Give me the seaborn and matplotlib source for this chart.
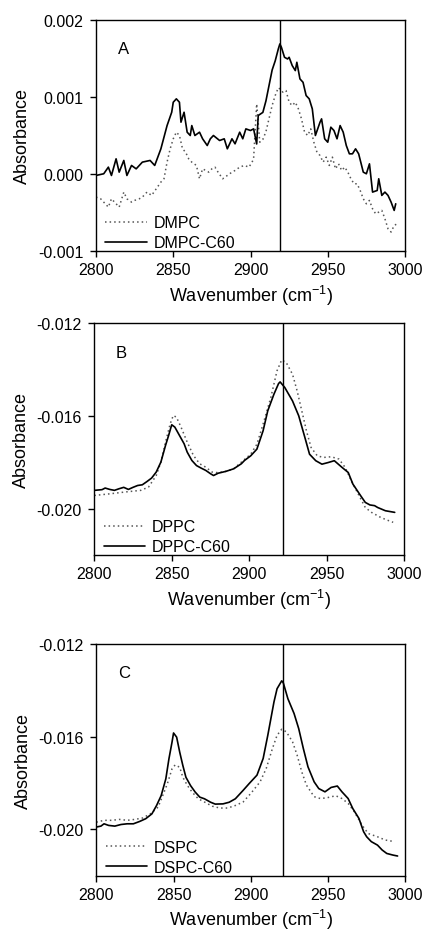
import numpy as np
import pandas as pd
import matplotlib
matplotlib.use("Agg")
import matplotlib.pyplot as plt
import seaborn as sns

# ---------------- data (absorbance values) ----------------
# Panel A
a_c60_wn = [2800, 2805, 2808, 2810, 2813, 2815, 2818, 2820, 2823, 2826,
            2830, 2835, 2838, 2842, 2846, 2849, 2850, 2852, 2854, 2855,
            2857, 2859, 2861, 2862, 2864, 2867, 2869, 2872, 2874, 2876,
            2880, 2883, 2885, 2888, 2890, 2893, 2895, 2897, 2900, 2902,
            2904, 2905, 2908, 2910, 2912, 2914, 2916, 2918, 2919, 2920,
            2922, 2924, 2925, 2927, 2929, 2930, 2932, 2934, 2936, 2938,
            2940, 2942, 2945, 2946, 2948, 2950, 2952, 2954, 2956, 2958,
            2960, 2962, 2964, 2966, 2968, 2970, 2973, 2975, 2977, 2979,
            2982, 2983, 2985, 2987, 2989, 2991, 2993, 2994]
a_c60_abs = [-0.000019, 0.000003, 0.000089, -0.000019, 0.000197, 0.000024, 0.000176, -0.000019, 0.000111, 0.000067,
             0.000154, 0.000176, 0.000111, 0.000327, 0.000629, 0.000802, 0.000932, 0.000976, 0.000932, 0.000673,
             0.000802, 0.000543, 0.000500, 0.000629, 0.000500, 0.000543, 0.000457, 0.000370, 0.000457, 0.000500,
             0.000435, 0.000457, 0.000327, 0.000457, 0.000392, 0.000543, 0.000457, 0.000586, 0.000565, 0.000586,
             0.000390, 0.000760, 0.000800, 0.000950, 0.001150, 0.001350, 0.001470, 0.001624, 0.001689, 0.001646,
             0.001516, 0.001494, 0.001516, 0.001408, 0.001343, 0.001451, 0.001235, 0.001191, 0.001019, 0.000976,
             0.000846, 0.000500, 0.000673, 0.000716, 0.000457, 0.000413, 0.000608, 0.000565, 0.000457, 0.000629,
             0.000543, 0.000370, 0.000262, 0.000262, 0.000327, 0.000262, 0.000024, 0.000003, 0.000132, -0.000235,
             -0.000214, -0.000062, -0.000278, -0.000235, -0.000278, -0.000365, -0.000473, -0.000387]

a_lip_wn = [2800, 2803, 2806, 2808, 2810, 2812, 2815, 2818, 2820, 2823,
            2825, 2828, 2830, 2833, 2836, 2839, 2842, 2844, 2846, 2848,
            2850, 2852, 2854, 2856, 2858, 2860, 2862, 2865, 2867, 2869,
            2871, 2873, 2875, 2877, 2879, 2882, 2885, 2888, 2890, 2893,
            2896, 2899, 2901, 2902, 2904, 2906, 2908, 2910, 2912, 2914,
            2916, 2918, 2919, 2921, 2923, 2925, 2927, 2929, 2931, 2933,
            2935, 2937, 2939, 2941, 2943, 2945, 2947, 2949, 2951, 2953,
            2955, 2957, 2959, 2961, 2963, 2965, 2967, 2969, 2971, 2973,
            2975, 2977, 2979, 2981, 2983, 2985, 2987, 2989, 2991, 2993,
            2995]
a_lip_abs = [-0.000300, -0.000322, -0.000387, -0.000430, -0.000322, -0.000365, -0.000430, -0.000235, -0.000322, -0.000365,
             -0.000343, -0.000322, -0.000300, -0.000235, -0.000278, -0.000192, -0.000105, -0.000062, 0.000154, 0.000327,
             0.000457, 0.000543, 0.000500, 0.000327, 0.000283, 0.000197, 0.000154, 0.000111, -0.000062, 0.000067,
             0.000046, 0.000024, 0.000067, 0.000089, 0.000024, -0.000062, -0.000019, 0.000024, 0.000046, 0.000089,
             0.000111, 0.000089, 0.000154, 0.000197, 0.000910, 0.000413, 0.000450, 0.000550, 0.000720, 0.000890,
             0.001020, 0.001120, 0.001105, 0.001062, 0.001083, 0.000932, 0.000889, 0.000932, 0.000846, 0.000716,
             0.000543, 0.000500, 0.000586, 0.000413, 0.000283, 0.000240, 0.000154, 0.000219, 0.000111, 0.000219,
             0.000067, 0.000132, 0.000046, 0.000089, 0.000024, -0.000062, -0.000127, -0.000127, -0.000214, -0.000322,
             -0.000387, -0.000343, -0.000452, -0.000517, -0.000495, -0.000473, -0.000581, -0.000711, -0.000754, -0.000668,
             -0.000646]

# Panel B
b_c60_wn = [2800, 2805, 2807, 2810, 2813, 2816, 2819, 2822, 2825, 2828,
            2831, 2834, 2837, 2840, 2843, 2846, 2848, 2850, 2852, 2855,
            2858, 2860, 2863, 2866, 2869, 2872, 2875, 2877, 2880, 2885,
            2890, 2895, 2897, 2901, 2905, 2909, 2912, 2916, 2919, 2920,
            2923, 2928, 2932, 2936, 2939, 2943, 2947, 2951, 2955, 2960,
            2964, 2967, 2972, 2975, 2978, 2981, 2983, 2988, 2994]
b_c60_abs = [-0.01921, -0.01918, -0.01911, -0.01917, -0.01921, -0.01914, -0.01908, -0.01917, -0.01908, -0.01900,
             -0.01897, -0.01883, -0.01868, -0.01842, -0.01799, -0.01727, -0.01684, -0.01638, -0.01648, -0.01684,
             -0.01720, -0.01756, -0.01792, -0.01814, -0.01825, -0.01835, -0.01849, -0.01857, -0.01847, -0.01839,
             -0.01828, -0.01806, -0.01792, -0.01772, -0.01743, -0.01664, -0.01578, -0.01506, -0.01460, -0.01453,
             -0.01477, -0.01535, -0.01599, -0.01693, -0.01765, -0.01793, -0.01808, -0.01801, -0.01793, -0.01822,
             -0.01844, -0.01894, -0.01944, -0.01973, -0.01984, -0.01987, -0.01995, -0.02009, -0.02016]

b_lip_wn = [2800, 2810, 2820, 2830, 2835, 2840, 2843, 2846, 2849, 2851,
            2853, 2856, 2860, 2864, 2868, 2872, 2876, 2880, 2885, 2890,
            2895, 2901, 2905, 2909, 2914, 2918, 2921, 2924, 2928, 2931,
            2934, 2937, 2940, 2944, 2948, 2953, 2958, 2962, 2966, 2971,
            2975, 2979, 2985, 2989, 2993]
b_lip_abs = [-0.01943, -0.01936, -0.01928, -0.01921, -0.01907, -0.01857, -0.01799, -0.01713, -0.01634, -0.01598,
             -0.01605, -0.01648, -0.01713, -0.01770, -0.01806, -0.01821, -0.01842, -0.01845, -0.01839, -0.01828,
             -0.01799, -0.01765, -0.01722, -0.01635, -0.01520, -0.01405, -0.01358, -0.01370, -0.01420, -0.01492,
             -0.01578, -0.01664, -0.01736, -0.01772, -0.01779, -0.01776, -0.01786, -0.01822, -0.01880, -0.01944,
             -0.01995, -0.02016, -0.02038, -0.02049, -0.02059]

# Panel C
c_c60_wn = [2800, 2803, 2805, 2808, 2812, 2816, 2820, 2824, 2828, 2832,
            2836, 2839, 2842, 2845, 2847, 2849, 2850, 2852, 2854, 2856,
            2858, 2861, 2864, 2867, 2870, 2874, 2877, 2882, 2886, 2890,
            2895, 2899, 2904, 2908, 2911, 2915, 2917, 2920, 2921, 2924,
            2928, 2931, 2934, 2937, 2941, 2944, 2948, 2952, 2956, 2959,
            2963, 2966, 2970, 2973, 2975, 2978, 2982, 2985, 2988, 2992,
            2995]
c_c60_abs = [-0.01990, -0.01986, -0.01976, -0.01983, -0.01986, -0.01979, -0.01976, -0.01976, -0.01966, -0.01954,
             -0.01933, -0.01897, -0.01854, -0.01782, -0.01696, -0.01624, -0.01584, -0.01602, -0.01667, -0.01724,
             -0.01775, -0.01811, -0.01839, -0.01861, -0.01868, -0.01883, -0.01891, -0.01890, -0.01883, -0.01868,
             -0.01832, -0.01802, -0.01766, -0.01694, -0.01594, -0.01450, -0.01393, -0.01359, -0.01367, -0.01436,
             -0.01500, -0.01565, -0.01651, -0.01730, -0.01795, -0.01824, -0.01838, -0.01819, -0.01813, -0.01838,
             -0.01867, -0.01910, -0.01953, -0.02010, -0.02032, -0.02053, -0.02068, -0.02089, -0.02104, -0.02111,
             -0.02115]

c_lip_wn = [2800, 2805, 2810, 2815, 2820, 2825, 2830, 2835, 2840, 2843,
            2846, 2849, 2851, 2854, 2856, 2859, 2862, 2866, 2870, 2875,
            2880, 2885, 2890, 2895, 2900, 2906, 2910, 2914, 2917, 2920,
            2923, 2927, 2930, 2933, 2936, 2941, 2945, 2949, 2955, 2959,
            2963, 2967, 2972, 2976, 2982, 2987, 2993]
c_lip_abs = [-0.01969, -0.01961, -0.01961, -0.01957, -0.01961, -0.01957, -0.01951, -0.01933, -0.01904, -0.01854,
             -0.01803, -0.01739, -0.01722, -0.01732, -0.01775, -0.01811, -0.01839, -0.01868, -0.01882, -0.01900,
             -0.01908, -0.01908, -0.01897, -0.01882, -0.01845, -0.01795, -0.01737, -0.01651, -0.01594, -0.01568,
             -0.01579, -0.01622, -0.01680, -0.01752, -0.01809, -0.01859, -0.01867, -0.01864, -0.01855, -0.01867,
             -0.01888, -0.01924, -0.01982, -0.02018, -0.02032, -0.02046, -0.02053]

panel_letters = ["A", "B", "C"]
lipid_names = ["DMPC", "DPPC", "DSPC"]
complex_names = ["DMPC-C60", "DPPC-C60", "DSPC-C60"]
marker_lines = [2919, 2922, 2921]
y_limits = [(-0.001, 0.002), (-0.022, -0.012), (-0.022, -0.012)]
y_ticks = [[-0.001, 0.000, 0.001, 0.002], [-0.020, -0.016, -0.012], [-0.020, -0.016, -0.012]]
x_ticks = [2800, 2850, 2900, 2950, 3000]

series = [
    (a_lip_wn, a_lip_abs, a_c60_wn, a_c60_abs),
    (b_lip_wn, b_lip_abs, b_c60_wn, b_c60_abs),
    (c_lip_wn, c_lip_abs, c_c60_wn, c_c60_abs),
]

# ---------------- figure ----------------
sns.set_theme(style="ticks")
plt.rcParams["font.family"] = ["Liberation Sans", "DejaVu Sans"]
plt.rcParams["mathtext.fontset"] = "custom"
plt.rcParams["mathtext.rm"] = "Liberation Sans"
plt.rcParams["mathtext.it"] = "Liberation Sans"
for key in ["text.color", "axes.labelcolor", "xtick.color", "ytick.color", "axes.edgecolor"]:
    plt.rcParams[key] = "black"

fig = plt.figure(figsize=(4.25, 9.37), dpi=100)
W, H = 425.0, 937.0
boxes = [(96, 21, 309, 231), (94.3, 324.3, 309.7, 231.7), (96.3, 645, 309, 231.7)]

for i, (lx, ly, cx, cy) in enumerate(series):
    x0, y0, w, h = boxes[i]
    ax = fig.add_axes([x0 / W, 1 - (y0 + h) / H, w / W, h / H])
    df_lip = pd.DataFrame({"wn": lx, "abs": ly})
    df_c60 = pd.DataFrame({"wn": cx, "abs": cy})
    sns.lineplot(data=df_lip, x="wn", y="abs", ax=ax, color="#555555",
                 linestyle=(0, (1, 2)), linewidth=1.1, estimator=None, sort=False,
                 label=lipid_names[i])
    sns.lineplot(data=df_c60, x="wn", y="abs", ax=ax, color="black",
                 linewidth=1.2, estimator=None, sort=False,
                 label=complex_names[i])
    ax.axvline(marker_lines[i], color="black", linewidth=1.0)
    ax.set_xlim(2800, 3000)
    ax.set_ylim(*y_limits[i])
    ax.set_xticks(x_ticks)
    ax.set_yticks(y_ticks[i])
    ax.set_yticklabels([f"{v:.3f}" for v in y_ticks[i]])
    ax.tick_params(axis="both", labelsize=11.5, length=4, width=1, color="black",
                   labelcolor="black", direction="out")
    ax.tick_params(axis="y", pad=5)
    ax.tick_params(axis="x", pad=4)
    for sp in ax.spines.values():
        sp.set_color("black")
        sp.set_linewidth(1.0)
        sp.set_visible(True)
    ax.set_xlabel("Wavenumber (cm$^{-1}$)", fontsize=13, labelpad=4, color="black")
    ax.set_ylabel("Absorbance", fontsize=13, labelpad=5, color="black")
    ax.text(0.07, 0.875, panel_letters[i], transform=ax.transAxes,
            fontsize=12, ha="left", va="center", color="black")
    leg = ax.legend(loc="lower left", bbox_to_anchor=(0.02, -0.01), frameon=False,
                    fontsize=11.5, handlelength=2.6, handletextpad=0.4,
                    borderaxespad=0, borderpad=0.2, labelspacing=0.3)
    for t in leg.get_texts():
        t.set_color("black")

fig.savefig("out.png", dpi=100)
